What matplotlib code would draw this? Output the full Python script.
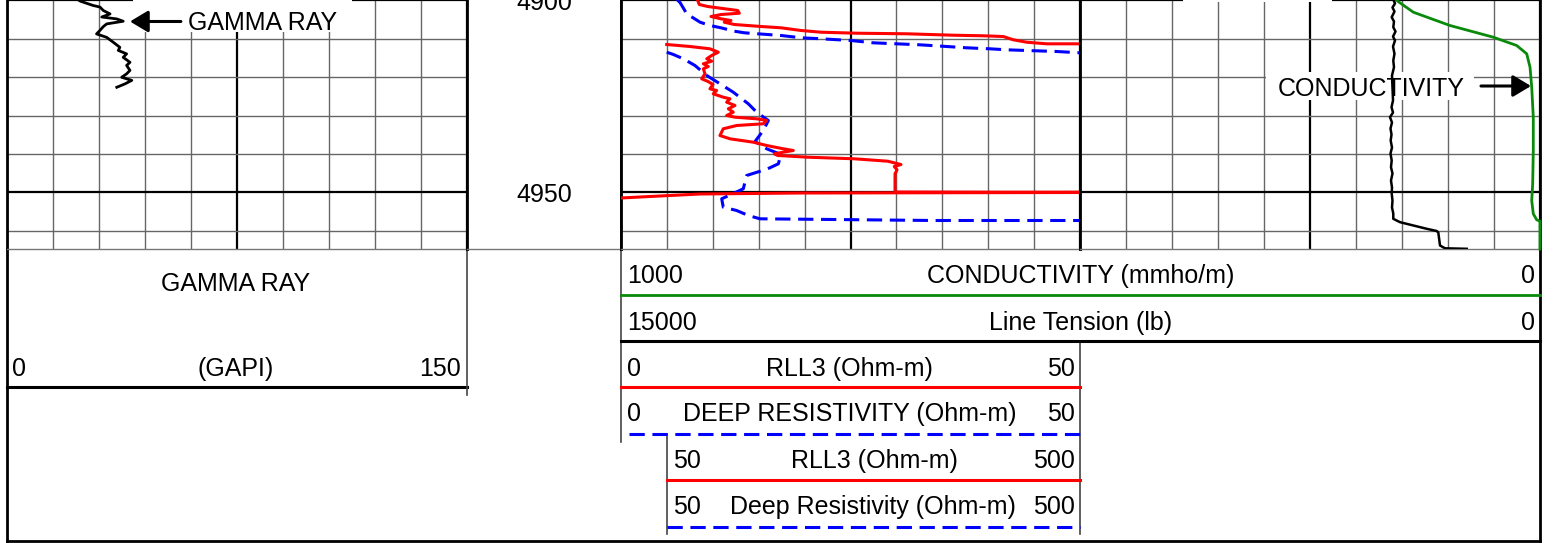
import matplotlib
matplotlib.use('Agg')
import matplotlib.pyplot as plt
from matplotlib.patches import Rectangle

plt.rcParams['font.family'] = ['Liberation Sans', 'DejaVu Sans']

# ---- log data (depth in ft) ----
gr_depth = [4899.5, 4900.2, 4901.3, 4901.7, 4902.6, 4903.5, 4904.3, 4904.8, 4905.4, 4906.1,
            4906.8, 4907.8, 4908.7, 4909.6, 4910.9, 4912.2, 4913.0, 4913.9, 4914.8, 4916.1,
            4916.9, 4918.2, 4919.1, 4920.0, 4920.8, 4921.7, 4922.6]
gr_api = [22.5, 24.0, 28.1, 30.3, 31.4, 33.6, 30.9, 35.8, 37.9, 32.5,
          31.4, 30.3, 29.2, 32.5, 34.7, 36.8, 36.3, 39.0, 37.9, 40.1,
          39.0, 40.1, 39.0, 37.4, 40.7, 38.5, 35.8]

# RLL3, shallow scale 0-50, broken where it wraps
rll3_depth_a = [4899.5, 4900.0, 4901.04, 4901.56, 4902.60, 4903.31, 4903.65, 4904.17, 4904.77, 4905.21,
                4905.65, 4906.25, 4906.77, 4907.11, 4907.81, 4908.26, 4908.52, 4908.67, 4909.04, 4909.19,
                4909.38, 4910.23, 4910.86, 4911.28, 4911.28]
rll3_a = [8.3, 8.36, 8.53, 9.44, 12.71, 12.89, 10.89, 9.80, 10.89, 11.98,
          11.25, 12.34, 15.25, 17.43, 19.61, 21.79, 25.68, 31.12, 36.20, 39.47,
          41.65, 42.73, 44.19, 46.37, 50.0]

rll3_depth_b = [4911.46, 4911.98, 4912.58, 4913.46, 4914.32, 4915.18, 4915.81, 4916.48, 4917.19, 4917.79,
                4919.09, 4920.39, 4921.09, 4921.88, 4923.00, 4923.44, 4924.30, 4925.18, 4925.60, 4926.48,
                4927.34, 4928.20, 4929.09, 4929.95, 4930.39, 4930.81, 4931.25, 4932.11, 4932.55, 4933.41,
                4935.16, 4936.02, 4936.90, 4937.76, 4938.62, 4939.06, 4939.51, 4939.92, 4940.36, 4940.81,
                4941.22, 4941.85, 4942.71, 4943.23, 4944.09, 4945.13, 4949.04, 4949.87, 4949.92, 4949.92]
rll3_b = [4.98, 7.52, 9.69, 10.60, 9.88, 9.34, 9.88, 8.97, 9.51, 8.97,
          9.15, 8.79, 9.48, 10.02, 9.69, 10.42, 10.05, 11.14, 11.87, 11.51,
          12.42, 11.69, 12.23, 11.51, 12.42, 14.78, 15.87, 15.50, 12.60, 11.14,
          10.78, 11.87, 14.41, 15.87, 17.68, 18.77, 17.68, 16.70, 17.07, 20.34,
          25.41, 29.05, 30.50, 29.77, 30.07, 29.85, 29.85, 29.85, 41.29, 50.0]

rll3_depth_c = [4951.43, 4951.04, 4950.39, 4950.13, 4950.0]
rll3_c = [0.0, 3.16, 8.61, 19.50, 50.0]

# deep resistivity, 0-50
deep_depth_a = [4899.74, 4900.52, 4903.46, 4905.65, 4906.51, 4907.11, 4907.99, 4908.41, 4908.67, 4909.11,
                4909.71, 4909.97, 4910.42, 4911.02, 4911.54, 4911.98, 4912.32, 4912.58, 4912.84, 4913.02,
                4913.28, 4913.62]
deep_a = [6.10, 6.43, 7.16, 8.61, 9.69, 10.89, 12.34, 13.43, 14.89, 17.43,
          19.61, 21.79, 25.05, 27.48, 32.57, 35.48, 37.66, 40.20, 42.02, 44.19,
          47.46, 50.0]

deep_depth_b = [4913.46, 4914.06, 4915.18, 4916.93, 4919.53, 4921.69, 4923.88, 4926.90, 4929.17, 4931.25,
                4933.85, 4936.72, 4938.62, 4940.10, 4942.53, 4943.83, 4945.57, 4949.04, 4951.64, 4953.83,
                4954.69, 4955.99, 4956.85, 4957.03, 4957.29, 4957.29]
deep_b = [4.98, 5.70, 6.79, 8.06, 9.34, 10.78, 12.23, 13.87, 14.81, 16.05,
          15.50, 14.60, 15.87, 17.43, 17.14, 15.98, 13.69, 13.32, 10.97, 11.14,
          12.60, 13.87, 15.14, 23.09, 33.99, 50.0]

# conductivity mmho/m (1000 left -> 0 right)
cond_depth = [4899.74, 4900.0, 4903.05, 4906.51, 4909.56, 4911.72, 4913.88, 4917.37, 4922.58, 4930.39,
              4939.06, 4947.73, 4952.08, 4955.55, 4957.11, 4957.47, 4964.7]
cond = [313.0, 311.5, 275.4, 195.7, 101.5, 50.7, 28.9, 21.7, 18.0, 14.6,
        14.6, 15.9, 18.0, 14.6, 7.2, 0.0, 0.0]

# line tension lb (15000 left -> 0 right)
tens_depth = [4899.74, 4900.78, 4901.82, 4902.86, 4904.35, 4905.47, 4906.95, 4908.07, 4909.38, 4910.42,
              4911.98, 4913.88, 4915.63, 4917.37, 4919.53, 4926.04, 4927.79, 4929.17, 4930.39, 4931.77,
              4933.33, 4934.90, 4936.46, 4938.28, 4939.84, 4941.67, 4943.41, 4945.05, 4946.88, 4948.70,
              4950.26, 4952.08, 4953.91, 4955.47, 4956.85, 4957.73, 4959.45, 4960.03, 4960.42, 4963.80,
              4964.53, 4964.66]
tens = [4784, 4728, 4810, 4745, 4836, 4761, 4784, 4712, 4793, 4728,
        4793, 4745, 4784, 4761, 4826, 4793, 4842, 4793, 4891, 4826,
        4875, 4842, 4869, 4826, 4875, 4836, 4859, 4810, 4859, 4826,
        4836, 4810, 4826, 4784, 4784, 4565, 3695, 3368, 3316, 3261,
        3098, 2390]

# ---- layout ----
W, H = 1554, 543
TRACK_PX = 249
TOP = 4899.87
BOT = TOP + TRACK_PX / 3.84
FS = 18
THIN = '#666666'
DY = 3  # text nudge down in px

fig = plt.figure(figsize=(W / 100, H / 100), dpi=100)


def track(x0, x1):
    ax = fig.add_axes([x0 / W, 1 - TRACK_PX / H, (x1 - x0) / W, TRACK_PX / H])
    ax.set_ylim(BOT, TOP)
    ax.tick_params(which='both', length=0, labelbottom=False, labelleft=False)
    ax.spines['top'].set_visible(False)
    ax.spines['bottom'].set_color('#777777')
    ax.spines['bottom'].set_linewidth(1.0)
    for s in ['left', 'right']:
        ax.spines[s].set_linewidth(2.0)
    return ax


def grid(ax, lo, hi):
    step = (hi - lo) / 10
    ax.set_xlim(lo, hi)
    ax.set_xticks([lo, lo + 5 * step, hi])
    ax.set_xticks([lo + i * step for i in range(1, 10) if i != 5], minor=True)
    ax.set_yticks([4900, 4950])
    ax.set_yticks([4910, 4920, 4930, 4940, 4960], minor=True)
    ax.grid(True, which='minor', color=THIN, lw=1.0)
    ax.grid(True, which='major', color='black', lw=1.6)


# gamma ray track
ax_gr = track(7, 467)
grid(ax_gr, 0, 150)
ax_gr.plot(gr_api, gr_depth, color='black', lw=2.0, zorder=3)
ax_gr.add_patch(Rectangle((0.274, 0.8715), 0.476, 0.14, transform=ax_gr.transAxes,
                          fc='white', ec='none', zorder=2.5, clip_on=False))
ax_gr.text(0.3935, 0.918 - DY / 249, 'GAMMA RAY', transform=ax_gr.transAxes, fontsize=FS,
           ha='left', va='center', zorder=4)
ax_gr.annotate('', xy=(0.2674, 0.9137), xytext=(0.378, 0.9137),
               xycoords='axes fraction', textcoords='axes fraction', zorder=4,
               arrowprops=dict(arrowstyle='-|>,head_length=0.5,head_width=0.3',
                               color='black', lw=2.2, mutation_scale=22,
                               shrinkA=0, shrinkB=0))

# depth track
ax_d = track(467, 621)
ax_d.set_xlim(0, 1)
ax_d.set_xticks([])
ax_d.set_yticks([])
for dep in [4900, 4950]:
    ax_d.text(0.5, dep + DY / 3.84, str(dep), transform=ax_d.get_yaxis_transform(),
              fontsize=FS, ha='center', va='center')

# resistivity track
ax_r = track(621, 1080)
grid(ax_r, 0, 50)
dash = (0, (5, 2.5))
ax_r.plot(deep_a, deep_depth_a, color='#0000ff', lw=2.2, ls=dash, zorder=3)
ax_r.plot(deep_b, deep_depth_b, color='#0000ff', lw=2.2, ls=dash, zorder=3)
ax_r.plot(rll3_a, rll3_depth_a, color='#ff0000', lw=2.2, zorder=3)
ax_r.plot(rll3_b, rll3_depth_b, color='#ff0000', lw=2.2, zorder=3)
ax_r.plot(rll3_c, rll3_depth_c, color='#ff0000', lw=2.2, zorder=3)

# conductivity / tension track
ax_c = track(1080, 1540)
grid(ax_c, 1000, 0)
ax_c.plot(cond, cond_depth, color='#0a8a0a', lw=2.0, zorder=3, clip_on=False)
ax_t = ax_c.twiny()
ax_t.set_xlim(15000, 0)
ax_t.set_ylim(BOT, TOP)
ax_t.axis('off')
ax_t.plot(tens, tens_depth, color='black', lw=1.8, zorder=3)
ax_t.add_patch(Rectangle((0.405, 0.5984), 0.4515, 0.1124, transform=ax_t.transAxes,
                         fc='white', ec='none', zorder=2.5))
ax_t.add_patch(Rectangle((0.224, 0.99), 0.324, 0.03, transform=ax_t.transAxes,
                         fc='white', ec='none', zorder=2.5, clip_on=False))
ax_t.text(0.6326, 0.6546 - DY / 249, 'CONDUCTIVITY', transform=ax_t.transAxes, fontsize=FS,
          ha='center', va='center', zorder=4)
ax_t.annotate('', xy=(0.9804, 0.6546), xytext=(0.8717, 0.6546),
              xycoords='axes fraction', textcoords='axes fraction', zorder=4,
              arrowprops=dict(arrowstyle='-|>,head_length=0.5,head_width=0.3',
                              color='black', lw=2.2, mutation_scale=22,
                              shrinkA=0, shrinkB=0))

# ---- header below the tracks (pixel coords) ----
hd = fig.add_axes([0, 0, 1, 1], zorder=-1)
hd.set_xlim(0, W)
hd.set_ylim(H, 0)
hd.axis('off')

# frame
hd.plot([7, 7], [249, 541], color='black', lw=2.0)
hd.plot([1540, 1540], [249, 541], color='black', lw=2.0)
hd.plot([7, 1540], [541, 541], color='black', lw=2.0)

# gamma header
hd.plot([7, 467], [387, 387], color='black', lw=2.2)
hd.plot([467, 467], [249, 395], color='#444444', lw=1.2)
hd.text(236, 281 + DY, 'GAMMA RAY', fontsize=FS, ha='center', va='center')
hd.text(12, 366 + DY, '0', fontsize=FS, ha='left', va='center')
hd.text(236, 366 + DY, '(GAPI)', fontsize=FS, ha='center', va='center')
hd.text(461, 366 + DY, '150', fontsize=FS, ha='right', va='center')

# conductivity / tension / resistivity header
hd.plot([621, 621], [249, 442], color='#444444', lw=1.2)
hd.plot([1080, 1080], [341, 534], color='#444444', lw=1.2)
hd.plot([667, 667], [434, 534], color='#444444', lw=1.2)
hd.plot([621, 1540], [294.5, 294.5], color='#0a8a0a', lw=2.0)
hd.plot([621, 1540], [341, 341], color='black', lw=2.2)
hd.plot([621, 1080], [387, 387], color='#ff0000', lw=2.2)
hd.plot([629, 1080], [434, 434], color='#0000ff', lw=2.2, ls=dash)
hd.plot([667, 1080], [480, 480], color='#ff0000', lw=2.2)
hd.plot([667, 1080], [526.5, 526.5], color='#0000ff', lw=2.2, ls=dash)

rows = [
    (627, 1081, 1535, 273, '1000', 'CONDUCTIVITY (mmho/m)', '0'),
    (627, 1081, 1535, 320, '15000', 'Line Tension (lb)', '0'),
    (627, 849, 1075, 366, '0', 'RLL3 (Ohm-m)', '50'),
    (627, 850, 1075, 411, '0', 'DEEP RESISTIVITY (Ohm-m)', '50'),
    (673, 874, 1075, 458, '50', 'RLL3 (Ohm-m)', '500'),
    (673, 873, 1075, 504, '50', 'Deep Resistivity (Ohm-m)', '500'),
]
for xl, xc, xr, y, left, mid, right in rows:
    hd.text(xl, y + DY, left, fontsize=FS, ha='left', va='center')
    hd.text(xc, y + DY, mid, fontsize=FS, ha='center', va='center')
    hd.text(xr, y + DY, right, fontsize=FS, ha='right', va='center')

fig.savefig('out.png', dpi=100)
